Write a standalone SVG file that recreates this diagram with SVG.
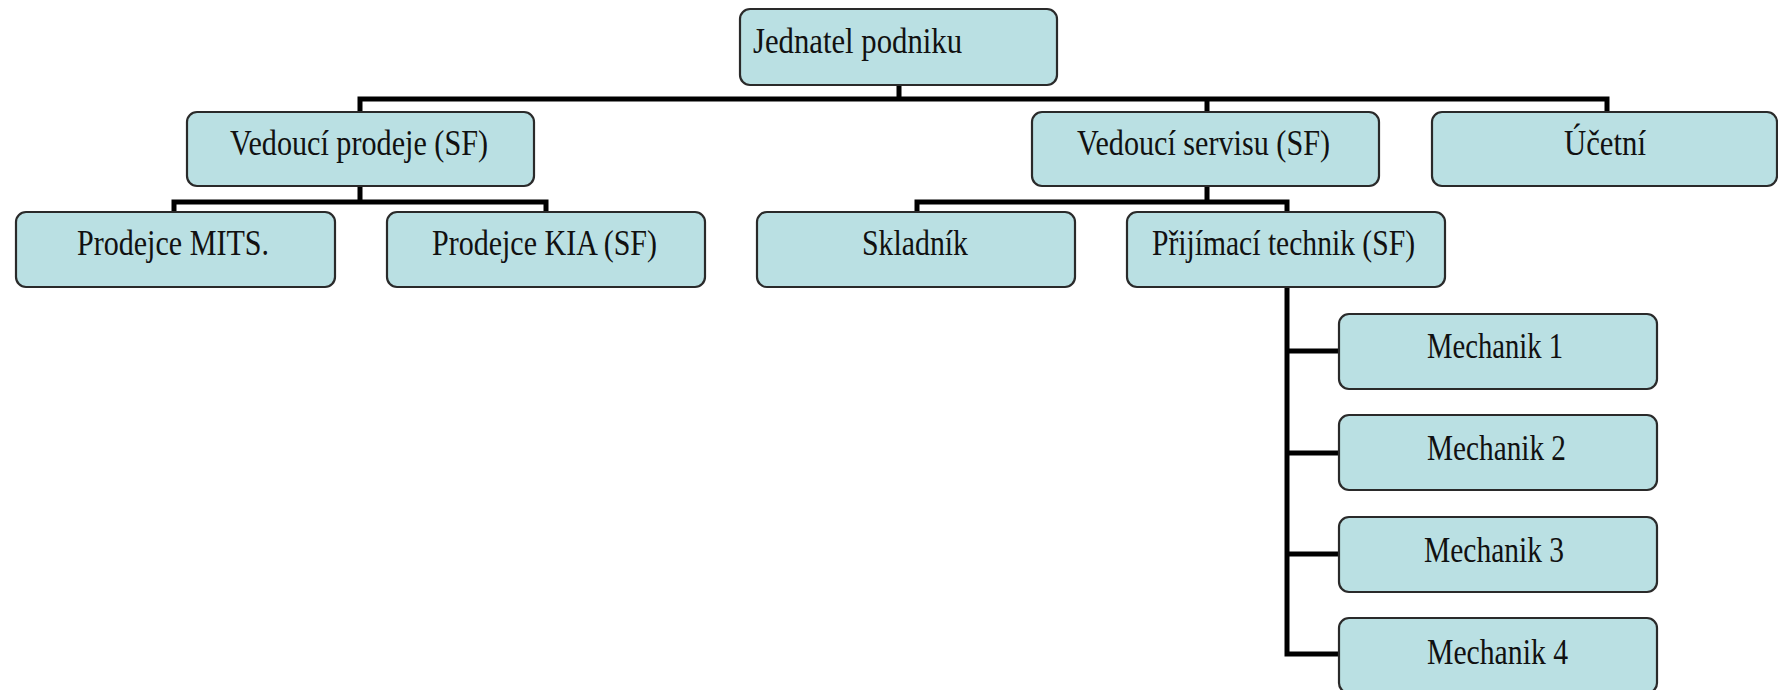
<svg xmlns="http://www.w3.org/2000/svg" width="1778" height="690" viewBox="0 0 1778 690">
<style>
.box{fill:#bae0e3;stroke:#2a2a2a;stroke-width:2.2}
.lbl{font-family:"Liberation Serif","Times New Roman",serif;font-size:35px;fill:#111}
.ln{fill:none;stroke:#000;stroke-width:5;stroke-linejoin:miter;stroke-linecap:square}
</style>
<rect width="1778" height="690" fill="#fff"/>
<g id="connectors">
<path class="ln" d="M899,85 V99 M360,111 V99 H1607 V111 M1207,99 V111"/>
<path class="ln" d="M360,186 V202 M174,212 V202 H546 V212"/>
<path class="ln" d="M1207,186 V202 M917,212 V202 H1287 V212"/>
<path class="ln" d="M1287,287 V654 H1339 M1287,351 H1339 M1287,453 H1339 M1287,554 H1339"/>
</g>
<g id="n-jednatel"><rect class="box" x="740" y="9" width="317" height="76" rx="10"/><text class="lbl" x="753" y="53" textLength="209" lengthAdjust="spacingAndGlyphs">Jednatel podniku</text></g>
<g id="n-ved-prodeje"><rect class="box" x="187" y="112" width="347" height="74" rx="10"/><text class="lbl" x="230" y="155" textLength="258" lengthAdjust="spacingAndGlyphs">Vedoucí prodeje (SF)</text></g>
<g id="n-ved-servisu"><rect class="box" x="1032" y="112" width="347" height="74" rx="10"/><text class="lbl" x="1077" y="155" textLength="253" lengthAdjust="spacingAndGlyphs">Vedoucí servisu (SF)</text></g>
<g id="n-ucetni"><rect class="box" x="1432" y="112" width="345" height="74" rx="10"/><text class="lbl" x="1564" y="155" textLength="82" lengthAdjust="spacingAndGlyphs">Účetní</text></g>
<g id="n-mits"><rect class="box" x="16" y="212" width="319" height="75" rx="10"/><text class="lbl" x="77" y="255" textLength="192" lengthAdjust="spacingAndGlyphs">Prodejce MITS.</text></g>
<g id="n-kia"><rect class="box" x="387" y="212" width="318" height="75" rx="10"/><text class="lbl" x="432" y="255" textLength="225" lengthAdjust="spacingAndGlyphs">Prodejce KIA (SF)</text></g>
<g id="n-skladnik"><rect class="box" x="757" y="212" width="318" height="75" rx="10"/><text class="lbl" x="862" y="255" textLength="106" lengthAdjust="spacingAndGlyphs">Skladník</text></g>
<g id="n-prijimaci"><rect class="box" x="1127" y="212" width="318" height="75" rx="10"/><text class="lbl" x="1152" y="255" textLength="263" lengthAdjust="spacingAndGlyphs">Přijímací technik (SF)</text></g>
<g id="n-mech1"><rect class="box" x="1339" y="314" width="318" height="75" rx="10"/><text class="lbl" x="1427" y="358" textLength="136" lengthAdjust="spacingAndGlyphs">Mechanik 1</text></g>
<g id="n-mech2"><rect class="box" x="1339" y="415" width="318" height="75" rx="10"/><text class="lbl" x="1427" y="460" textLength="139" lengthAdjust="spacingAndGlyphs">Mechanik 2</text></g>
<g id="n-mech3"><rect class="box" x="1339" y="517" width="318" height="75" rx="10"/><text class="lbl" x="1424" y="562" textLength="140" lengthAdjust="spacingAndGlyphs">Mechanik 3</text></g>
<g id="n-mech4"><rect class="box" x="1339" y="618" width="318" height="75" rx="10"/><text class="lbl" x="1427" y="664" textLength="141" lengthAdjust="spacingAndGlyphs">Mechanik 4</text></g>
</svg>
